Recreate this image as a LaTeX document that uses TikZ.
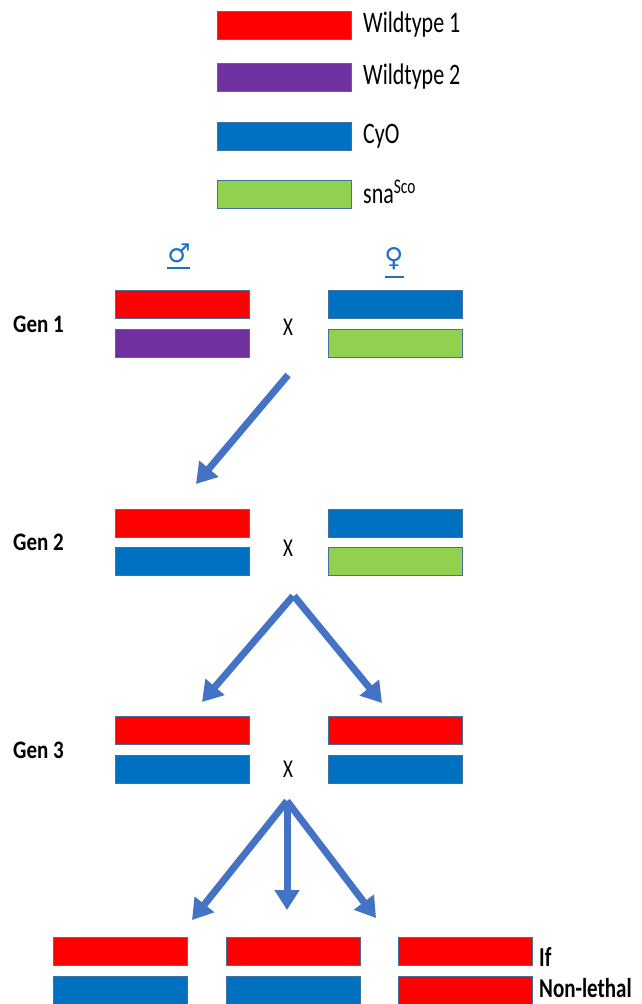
\documentclass[tikz,border=0pt]{standalone}
\usepackage{fontspec}
\usepackage{graphicx}
\setmainfont{Carlito}
\newfontfamily\symfont{DejaVu Sans}
\usetikzlibrary{arrows.meta}
\definecolor{cred}{HTML}{FF0000}
\definecolor{cpurple}{HTML}{7030A0}
\definecolor{cblue}{HTML}{0070C0}
\definecolor{cgreen}{HTML}{92D050}
\definecolor{cedge}{HTML}{41719C}
\definecolor{carrow}{HTML}{4472C4}
\definecolor{csym}{HTML}{1F6FC5}
\newcommand{\tallt}[2]{\scalebox{1}[#1]{#2}}
\begin{document}
\begin{tikzpicture}[x=1pt,y=-1pt,
  bar/.style={draw=cedge,line width=0.8pt,minimum width=134pt,minimum height=28pt,inner sep=0pt},
  rbar/.style={bar,fill=cred},
  pbar/.style={bar,fill=cpurple},
  bbar/.style={bar,fill=cblue},
  gbar/.style={bar,fill=cgreen},
  lab/.style={anchor=west,font=\fontsize{22}{24}\selectfont,inner sep=0pt},
  gen/.style={anchor=west,font=\fontsize{21}{23}\selectfont\bfseries,inner sep=0pt},
  cross/.style={font=\fontsize{19}{22}\selectfont,inner sep=0pt},
  arr/.style={line width=7pt,color=carrow,-{Triangle[width=24pt,length=20pt]}}
]
\useasboundingbox (0,0) rectangle (641,1004);
\clip (0,0) rectangle (641,1004);
% legend
\node[rbar] (l1) at (284.5,25) {};
\node[pbar] (l2) at (284.5,77.5) {};
\node[bbar] (l3) at (284.5,136.5) {};
\node[gbar] (l4) at (284.5,194) {};
\node[lab] (t1) at (363,25) {\tallt{1.35}{Wildtype 1}};
\node[lab] (t2) at (363,77) {\tallt{1.35}{Wildtype 2}};
\node[lab] (t3) at (363,136) {\tallt{1.35}{CyO}};
\node[lab] (t4) at (363,192) {\tallt{1.35}{sna\textsuperscript{Sco}}};
% sex symbols
\node[font=\fontsize{26}{28}\symfont,text=csym,inner sep=0pt] (male) at (179,253) {♂};
\draw[csym,line width=1.5pt] (167,268) -- (190,268);
\node[font=\fontsize{26}{28}\symfont,text=csym,inner sep=0pt] (female) at (394,259) {♀};
\draw[csym,line width=1.5pt] (385,277) -- (404,277);
% gen 1
\node[gen] (g1) at (13,324) {\tallt{1.2}{Gen 1}};
\node[rbar] (g1a) at (182,304) {};
\node[pbar] (g1b) at (182,343) {};
\node[bbar] (g1c) at (395.5,304) {};
\node[gbar] (g1d) at (395.5,343) {};
\node[cross] (x1) at (288,327) {\tallt{1.35}{X}};
% gen 2
\node[gen] (g2) at (13,542) {\tallt{1.2}{Gen 2}};
\node[rbar] (g2a) at (182,523) {};
\node[bbar] (g2b) at (182,561) {};
\node[bbar] (g2c) at (395.5,523) {};
\node[gbar] (g2d) at (395.5,561) {};
\node[cross] (x2) at (288,548) {\tallt{1.35}{X}};
% gen 3
\node[gen] (g3) at (13,750) {\tallt{1.2}{Gen 3}};
\node[rbar] (g3a) at (182,730) {};
\node[bbar] (g3b) at (182,769) {};
\node[rbar] (g3c) at (395.5,730) {};
\node[bbar] (g3d) at (395.5,769) {};
\node[cross] (x3) at (288,769) {\tallt{1.35}{X}};
% gen 4
\node[rbar] (g4a) at (120.5,951) {};
\node[bbar] (g4b) at (120.5,990) {};
\node[rbar] (g4c) at (293,951) {};
\node[bbar] (g4d) at (293,990) {};
\node[rbar] (g4e) at (465,951) {};
\node[rbar] (g4f) at (465,990) {};
\node[gen,font=\fontsize{21}{23}\selectfont\bfseries] (if) at (539,957) {\tallt{1.3}{If}};
\node[gen,font=\fontsize{21}{23}\selectfont\bfseries,text depth=0pt] (nl) at (539,988) {\tallt{1.3}{Non-lethal}};
% arrows
\coordinate (s1) at (288,375);
\coordinate (e1) at (196,484);
\coordinate (s2a) at (293,596);
\coordinate (s2b) at (294,596);
\coordinate (e2a) at (202,702);
\coordinate (e2b) at (382,703);
\coordinate (s3) at (287,801);
\coordinate (e3a) at (192,920);
\coordinate (e3b) at (287,910);
\coordinate (e3c) at (376,918);
\draw[arr] (s1) -- (e1);
\draw[arr] (s2a) -- (e2a);
\draw[arr] (s2b) -- (e2b);
\draw[arr] (s3) -- (e3a);
\draw[arr] (s3) -- (e3b);
\draw[arr] (s3) -- (e3c);
\end{tikzpicture}
\end{document}
